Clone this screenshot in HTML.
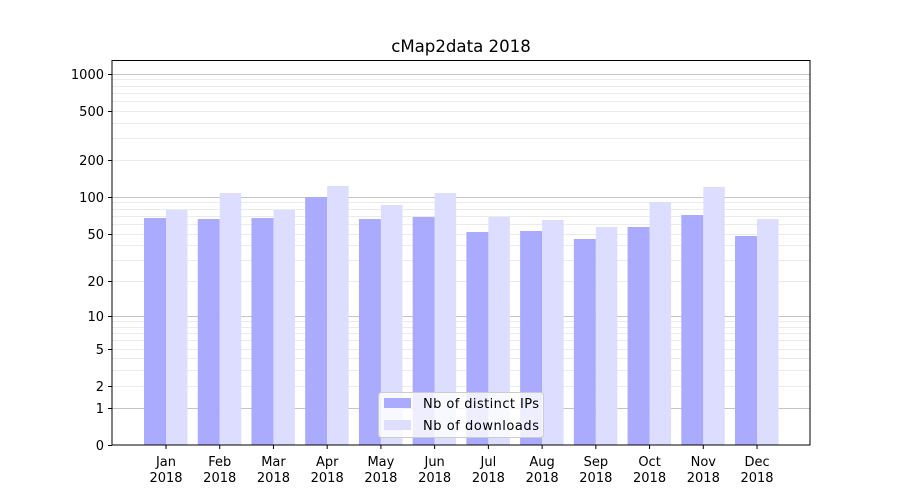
<!DOCTYPE html>
<html><head><meta charset="utf-8"><style>
body{margin:0;background:#fff;}
svg{display:block;font-family:"DejaVu Sans","Liberation Sans",sans-serif;}
</style></head><body>
<svg id="s" width="900" height="500" xmlns="http://www.w3.org/2000/svg">
<rect width="900" height="500" fill="#fff"/>
<text x="461" y="52" font-size="16.6" text-anchor="middle" fill="#000">cMap2data 2018</text>
<g id="grid"></g>
<g id="bars"></g>
<g id="ticks" font-size="13" fill="#000"></g>
<rect x="112" y="60.5" width="698" height="384.5" fill="none" stroke="#000" stroke-width="1"/>
<g>
<rect x="378.5" y="392.5" width="165" height="45" rx="3" fill="#fff" fill-opacity="0.8" stroke="#ccc"/>
<rect x="384" y="398" width="27" height="10" fill="#aaaaff"/>
<rect x="384" y="420" width="27" height="10" fill="#ddddff"/>
<text x="423" y="408" font-size="13" textLength="116">Nb of distinct IPs</text>
<text x="423" y="430" font-size="13" textLength="116">Nb of downloads</text>
</g>
</svg>
<script>
const NS="http://www.w3.org/2000/svg";
function y(v){return 445-123.8*Math.log10(v+1);}
function el(p,t,a,txt){const e=document.createElementNS(NS,t);for(const k in a)e.setAttribute(k,a[k]);if(txt!==undefined)e.textContent=txt;document.getElementById(p).appendChild(e);return e;}
[1,10,100,1000].forEach(d=>{for(let m=2;m<=9;m++){if(d*m>1100)continue;const yy=Math.round(y(d*m))+0.5;el('grid','line',{x1:112,x2:810,y1:yy,y2:yy,stroke:'#ebebeb','stroke-width':1});}});
[1,10,100,1000].forEach(v=>{const yy=Math.round(y(v))+0.5;el('grid','line',{x1:112,x2:810,y1:yy,y2:yy,stroke:'#c4c4c4','stroke-width':1});});
const ip=[218,219,218,197,219,217,232,231,239,227,215,236];
const dl=[210,193,210,186,205,193,217,220,227,202,187,219];
const mon=['Jan','Feb','Mar','Apr','May','Jun','Jul','Aug','Sep','Oct','Nov','Dec'];
for(let i=0;i<12;i++){const c=166+i*53.73;
el('bars','rect',{x:c-22,y:ip[i],width:22,height:445-ip[i],fill:'#aaaaff'});
el('bars','rect',{x:c,y:dl[i],width:21.5,height:445-dl[i],fill:'#ddddff'});
el('ticks','line',{x1:c,x2:c,y1:445,y2:449,stroke:'#000'});
el('ticks','text',{x:c,y:466,'text-anchor':'middle'},mon[i]);
el('ticks','text',{x:c,y:482,'text-anchor':'middle'},'2018');}
[0,1,2,5,10,20,50,100,200,500,1000].forEach(v=>{const yy=Math.round(y(v))+0.5;
el('ticks','line',{x1:108,x2:112,y1:yy,y2:yy,stroke:'#000'});
el('ticks','text',{x:104,y:yy+4.5,'text-anchor':'end'},String(v));});
</script>
</body></html>
